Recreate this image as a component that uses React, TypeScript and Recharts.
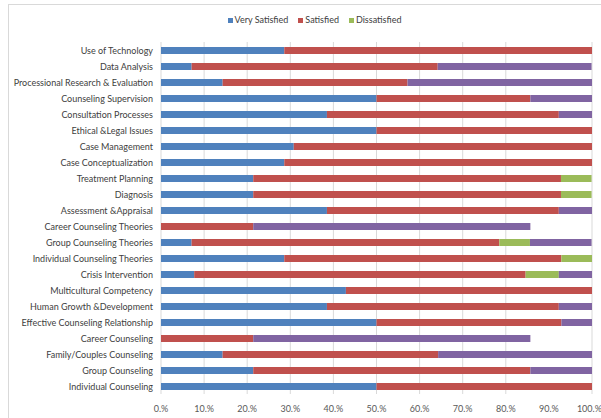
import React from "react";
import { BarChart, Bar, XAxis, YAxis, CartesianGrid } from "recharts";

const categories = [
  "Use of Technology",
  "Data Analysis",
  "Processional Research & Evaluation",
  "Counseling Supervision",
  "Consultation Processes",
  "Ethical &Legal Issues",
  "Case Management",
  "Case Conceptualization",
  "Treatment Planning",
  "Diagnosis",
  "Assessment &Appraisal",
  "Career Counseling Theories",
  "Group Counseling Theories",
  "Individual Counseling Theories",
  "Crisis Intervention",
  "Multicultural Competency",
  "Human Growth &Development",
  "Effective Counseling Relationship",
  "Career Counseling",
  "Family/Couples Counseling",
  "Group Counseling",
  "Individual Counseling",
];

const verySatisfied = [28.6, 7.1, 14.3, 50, 38.5, 50, 30.8, 28.6, 21.4, 21.4, 38.5, 0, 7.1, 28.6, 7.7, 42.9, 38.5, 50, 0, 14.3, 21.4, 50];
const satisfied = [71.4, 57.1, 42.9, 35.7, 53.8, 50, 69.2, 71.4, 71.4, 71.4, 53.8, 21.4, 71.4, 64.3, 76.9, 57.1, 53.8, 42.9, 21.4, 50, 64.3, 50];
const dissatisfied = [0, 0, 0, 0, 0, 0, 0, 0, 7.1, 7.1, 0, 0, 7.1, 7.1, 7.7, 0, 0, 0, 0, 0, 0, 0];
const other = [0, 35.7, 42.9, 14.3, 7.7, 0, 0, 0, 0, 0, 7.7, 64.3, 14.3, 0, 7.7, 0, 7.7, 7.1, 64.3, 35.7, 14.3, 0];

const xTicks = [0, 10, 20, 30, 40, 50, 60, 70, 80, 90, 100];
const legendLabels = ["Very Satisfied", "Satisfied", "Dissatisfied"];

const data = categories.map((name, i) => ({
  name,
  vs: verySatisfied[i],
  s: satisfied[i],
  d: dissatisfied[i],
  o: other[i],
}));

const COLORS = { vs: "#4F81BD", s: "#C0504D", d: "#9BBB59", o: "#8064A2" };
const LEGEND_COLORS = [COLORS.vs, COLORS.s, COLORS.d];
const FONT = "Lato, 'Open Sans', sans-serif";

const CategoryTick = (props: any) => {
  const { x, y, payload } = props;
  return (
    <text x={x} y={y} dy={3.5} textAnchor="end" fontSize={9} fill="#404040" fontFamily={FONT}>
      {payload.value}
    </text>
  );
};

export default function App() {
  return (
    <div style={{ position: "absolute", left: 0, top: 0, width: 601, height: 418, overflow: "hidden", background: "#fff" }}>
      <div style={{ position: "absolute", left: 8, top: 4, width: 640, height: 460, border: "1px solid #d9d9d9" }} />
      <div
        style={{
          position: "absolute",
          left: 14,
          top: 13,
          width: 601,
          display: "flex",
          justifyContent: "center",
          fontFamily: FONT,
          fontSize: 9,
          color: "#404040",
          lineHeight: "14px",
        }}
      >
        {legendLabels.map((label, i) => (
          <div key={label} style={{ display: "flex", alignItems: "center", margin: "0 5px" }}>
            <span style={{ width: 5, height: 5, background: LEGEND_COLORS[i], display: "inline-block", marginRight: 2 }} />
            <span>{label}</span>
          </div>
        ))}
      </div>
      <div style={{ position: "absolute", left: 0, top: 0 }}>
        <BarChart
          width={601}
          height={418}
          data={data}
          layout="vertical"
          margin={{ top: 42, right: 9, bottom: 4, left: 0 }}
          barCategoryGap={0}
        >
          <CartesianGrid horizontal={false} vertical={true} stroke="#d9d9d9" />
          <XAxis
            type="number"
            domain={[0, 100]}
            ticks={xTicks}
            tickFormatter={(v) => `${v}.%`}
            axisLine={false}
            tickLine={false}
            tick={{ fontSize: 9, fill: "#595959", fontFamily: FONT }}
            height={20}
            tickMargin={6}
            allowDataOverflow
          />
          <YAxis
            type="category"
            dataKey="name"
            width={161}
            axisLine={false}
            tickLine={false}
            tickSize={0}
            tickMargin={8}
            interval={0}
            tick={<CategoryTick />}
          />
          <Bar dataKey="vs" name="Very Satisfied" stackId="a" fill={COLORS.vs} barSize={7} isAnimationActive={false} />
          <Bar dataKey="s" name="Satisfied" stackId="a" fill={COLORS.s} barSize={7} isAnimationActive={false} />
          <Bar dataKey="d" name="Dissatisfied" stackId="a" fill={COLORS.d} barSize={7} isAnimationActive={false} />
          <Bar dataKey="o" name="Other" stackId="a" fill={COLORS.o} barSize={7} legendType="none" isAnimationActive={false} />
        </BarChart>
      </div>
    </div>
  );
}
